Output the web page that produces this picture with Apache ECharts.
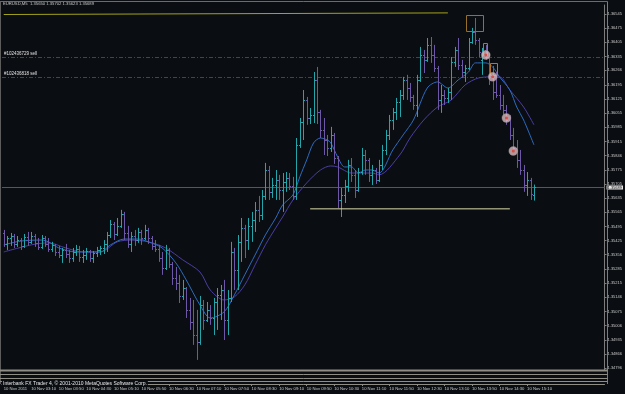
<!DOCTYPE html>
<html><head><meta charset="utf-8">
<script src="https://cdn.jsdelivr.net/npm/echarts@6/dist/echarts.min.js"></script>
<style>html,body{margin:0;padding:0;background:#0a0d11}#c{width:625px;height:394px}</style>
</head><body><div id="c"></div>
<script>
// ---- data (EURUSD M5, 10 Nov 2011, from 02:30) ----
const opens=[1.35463,1.35409,1.35438,1.35448,1.35409,1.35428,1.35399,1.35443,1.35419,1.35448,
1.35414,1.35394,1.35438,1.35409,1.35384,1.35404,1.35369,1.35354,1.35379,1.35359,
1.35339,1.35369,1.35384,1.35344,1.35354,1.35374,1.35339,1.35364,1.35379,1.35389,
1.35409,1.35453,1.35507,1.35458,1.35498,1.35557,1.35463,1.35409,1.35448,1.35428,
1.35468,1.35438,1.35478,1.35438,1.35399,1.35384,1.35339,1.35290,1.35379,1.35310,
1.35241,1.35216,1.35152,1.35191,1.35083,1.35023,1.34959,1.34925,1.35107,1.35033,
1.35083,1.35043,1.35122,1.35157,1.35181,1.35033,1.35142,1.35369,1.35280,1.35419,
1.35488,1.35428,1.35498,1.35527,1.35577,1.35552,1.35646,1.35774,1.35666,1.35700,
1.35725,1.35675,1.35715,1.35735,1.35695,1.35646,1.35898,1.36011,1.36120,1.36031,
1.36046,1.36219,1.36061,1.35972,1.35922,1.35883,1.35947,1.35833,1.35626,1.35651,
1.35695,1.35799,1.35750,1.35675,1.35764,1.35848,1.35824,1.35750,1.35774,1.35725,
1.35799,1.35873,1.35947,1.36021,1.36061,1.36110,1.36145,1.36219,1.36179,1.36135,
1.36095,1.36219,1.36342,1.36318,1.36392,1.36342,1.36278,1.36120,1.36145,1.36130,
1.36160,1.36308,1.36367,1.36293,1.36258,1.36278,1.36407,1.36456,1.36416,1.36318,
1.36367,1.36332,1.36229,1.36160,1.36145,1.36095,1.36071,1.36021,1.35947,1.35883,
1.35824,1.35774,1.35700,1.35725,1.35650];
const highs=[1.35478,1.35448,1.35463,1.35458,1.35448,1.35438,1.35458,1.35468,1.35468,1.35458,
1.35438,1.35453,1.35448,1.35438,1.35419,1.35409,1.35399,1.35389,1.35409,1.35379,
1.35389,1.35404,1.35399,1.35379,1.35389,1.35379,1.35374,1.35394,1.35399,1.35428,
1.35468,1.35527,1.35517,1.35537,1.35577,1.35567,1.35498,1.35468,1.35478,1.35488,
1.35478,1.35503,1.35488,1.35448,1.35428,1.35404,1.35369,1.35404,1.35389,1.35320,
1.35295,1.35256,1.35231,1.35196,1.35142,1.35132,1.35083,1.35152,1.35132,1.35122,
1.35107,1.35142,1.35191,1.35206,1.35231,1.35181,1.35419,1.35389,1.35453,1.35537,
1.35503,1.35537,1.35567,1.35616,1.35646,1.35675,1.35809,1.35794,1.35735,1.35774,
1.35750,1.35759,1.35764,1.35759,1.35740,1.35932,1.36031,1.36169,1.36135,1.36080,
1.36258,1.36283,1.36071,1.36031,1.35947,1.35987,1.35957,1.35843,1.35685,1.35725,
1.35824,1.35833,1.35774,1.35784,1.35883,1.35873,1.35833,1.35799,1.35784,1.35824,
1.35898,1.35972,1.36046,1.36080,1.36130,1.36169,1.36234,1.36244,1.36204,1.36145,
1.36244,1.36382,1.36367,1.36426,1.36431,1.36392,1.36288,1.36194,1.36169,1.36179,
1.36332,1.36382,1.36426,1.36318,1.36293,1.36426,1.36476,1.36525,1.36426,1.36377,
1.36392,1.36352,1.36288,1.36258,1.36194,1.36145,1.36095,1.36046,1.35982,1.35922,
1.35873,1.35799,1.35764,1.35735,1.35702];
const lows=[1.35394,1.35379,1.35399,1.35389,1.35394,1.35379,1.35389,1.35399,1.35409,1.35394,
1.35379,1.35384,1.35394,1.35369,1.35369,1.35349,1.35339,1.35315,1.35339,1.35315,
1.35320,1.35349,1.35320,1.35315,1.35330,1.35320,1.35315,1.35344,1.35354,1.35359,
1.35369,1.35438,1.35428,1.35448,1.35488,1.35428,1.35389,1.35369,1.35399,1.35414,
1.35404,1.35428,1.35409,1.35379,1.35369,1.35320,1.35256,1.35280,1.35290,1.35206,
1.35181,1.35117,1.35132,1.35043,1.34984,1.34910,1.34836,1.34910,1.34984,1.35023,
1.35009,1.34959,1.34984,1.35033,1.34934,1.34959,1.35122,1.35181,1.35181,1.35320,
1.35339,1.35379,1.35419,1.35468,1.35517,1.35527,1.35626,1.35626,1.35636,1.35626,
1.35626,1.35567,1.35666,1.35675,1.35626,1.35626,1.35883,1.35922,1.35997,1.36001,
1.36006,1.36001,1.35932,1.35848,1.35843,1.35863,1.35804,1.35586,1.35542,1.35611,
1.35666,1.35715,1.35636,1.35666,1.35750,1.35750,1.35715,1.35700,1.35705,1.35715,
1.35774,1.35848,1.35922,1.35972,1.36021,1.36036,1.36120,1.36120,1.36110,1.36071,
1.36036,1.36209,1.36253,1.36308,1.36303,1.36258,1.36071,1.36056,1.36095,1.36105,
1.36120,1.36283,1.36268,1.36229,1.36209,1.36268,1.36397,1.36392,1.36332,1.36244,
1.36318,1.36194,1.36120,1.36130,1.36071,1.36046,1.35997,1.35922,1.35863,1.35784,
1.35750,1.35666,1.35646,1.35626,1.35623];
const closes=[1.35409,1.35438,1.35448,1.35409,1.35428,1.35399,1.35443,1.35419,1.35448,1.35414,
1.35394,1.35438,1.35409,1.35384,1.35404,1.35369,1.35354,1.35379,1.35359,1.35339,
1.35369,1.35384,1.35344,1.35354,1.35374,1.35339,1.35364,1.35379,1.35389,1.35409,
1.35453,1.35507,1.35458,1.35498,1.35557,1.35463,1.35409,1.35448,1.35428,1.35468,
1.35438,1.35478,1.35438,1.35399,1.35384,1.35339,1.35290,1.35379,1.35310,1.35241,
1.35216,1.35152,1.35191,1.35083,1.35023,1.34959,1.34925,1.35107,1.35033,1.35083,
1.35043,1.35122,1.35157,1.35181,1.35033,1.35142,1.35369,1.35280,1.35419,1.35488,
1.35428,1.35498,1.35527,1.35577,1.35552,1.35646,1.35774,1.35666,1.35700,1.35725,
1.35675,1.35715,1.35735,1.35695,1.35646,1.35898,1.36011,1.36120,1.36031,1.36046,
1.36219,1.36061,1.35972,1.35922,1.35883,1.35947,1.35833,1.35626,1.35651,1.35695,
1.35799,1.35750,1.35675,1.35764,1.35848,1.35824,1.35750,1.35774,1.35725,1.35799,
1.35873,1.35947,1.36021,1.36061,1.36110,1.36145,1.36219,1.36179,1.36135,1.36095,
1.36219,1.36342,1.36318,1.36392,1.36342,1.36278,1.36120,1.36145,1.36130,1.36160,
1.36308,1.36367,1.36293,1.36258,1.36278,1.36407,1.36456,1.36416,1.36357,1.36367,
1.36332,1.36219,1.36160,1.36145,1.36095,1.36071,1.36021,1.35947,1.35883,1.35824,
1.35774,1.35700,1.35725,1.35656,1.35689];

const fastMA=[[0,1.35404],[5,1.35423],[11,1.35428],[13,1.35419],[16,1.35389],[21,1.35369],[28,1.35369],[31,1.35404],[35,1.35433],[39,1.35433],[42,1.35419],[46,1.35389],[50,1.35315],[53,1.35231],[57,1.35107],[60,1.35043],[64,1.35073],[67,1.35157],[70,1.35256],[73,1.35354],[76,1.35453],[79,1.35537],[81,1.35601],[84,1.35651],[86,1.35740],[88,1.35824],[90,1.35908],[92,1.35932],[94,1.35922],[95,1.35908],[97,1.35838],[99,1.35789],[101,1.35789],[103,1.35759],[105,1.35774],[107,1.35774],[109,1.35759],[113,1.35873],[116,1.35947],[119,1.36021],[123,1.36179],[126,1.36209],[129,1.36179],[132,1.36219],[135,1.36258],[137,1.36303],[140,1.36303],[142,1.36283],[144,1.36234],[147,1.36169],[149,1.36085],[151,1.36021],[154,1.35898]];
const slowMA=[[0,1.35369],[8,1.35404],[13,1.35414],[18,1.35389],[23,1.35369],[28,1.35369],[33,1.35419],[37,1.35428],[42,1.35419],[47,1.35389],[52,1.35330],[57,1.35270],[60,1.35181],[64,1.35132],[67,1.35147],[70,1.35206],[73,1.35305],[76,1.35404],[79,1.35488],[81,1.35542],[84,1.35626],[88,1.35710],[92,1.35774],[95,1.35794],[97,1.35789],[101,1.35759],[104,1.35759],[107,1.35759],[109,1.35750],[115,1.35848],[118,1.35932],[122,1.36021],[126,1.36085],[130,1.36120],[134,1.36194],[138,1.36229],[142,1.36234],[144,1.36234],[147,1.36169],[151,1.36085],[154,1.35997]];

const orderIds=['#102436729 sell','#102436818 sell'];
const orderPrices=[1.36333,1.36234];
const bidPrice=1.35689;
const trendTop=[[0,1.36542],[129,1.36550]];
const supportLine=[[89,1.35582],[147,1.35582]];
const boxes=[[134.8,139.7,1.36540,1.36461],[139.6,141.0,1.36402,1.36342],[141.6,143.9,1.36303,1.36244]];
const tradeMarks=[[140,1.36342],[142,1.36234],[146,1.36031],[148,1.35868]];

const yTicks=[1.36545,1.36475,1.36405,1.36335,1.36266,1.36195,1.36125,1.36055,1.35985,1.35915,1.35846,1.35775,1.35705,1.35635,1.35565,1.35495,1.35425,1.35356,1.35285,1.35215,1.35146,1.35075,1.35006,1.34935,1.34866,1.34796];
const xTickLabels=['10 Nov 2011','10 Nov 03:10','10 Nov 03:50','10 Nov 04:30','10 Nov 05:10','10 Nov 05:50','10 Nov 06:30','10 Nov 07:10','10 Nov 07:50','10 Nov 08:30','10 Nov 09:10','10 Nov 09:50','10 Nov 10:30','10 Nov 11:10','10 Nov 11:50','10 Nov 12:30','10 Nov 13:10','10 Nov 13:50','10 Nov 14:30','10 Nov 15:10'];
const titleText='EURUSD,M5  1.35650 1.35702 1.35623 1.35689';
const copyright='Interbank FX Trader 4, \u00a9 2001-2010 MetaQuotes Software Corp.';

// ---- categories: M5 slots from 02:30 (incl. empty shift area) ----
const nSlots=175, labelStep=8;
const cats=[];
for(let k=0;k<nSlots;k++){const m=150+5*k;cats.push(String(Math.floor(m/60)).padStart(2,'0')+':'+String(m%60).padStart(2,'0'));}
const showTick=(idx)=> idx%labelStep===0 && idx/labelStep<xTickLabels.length;

const UP='#22a6aa', DOWN='#6c58a6';
const FONT='Liberation Sans';
const BG='#0a0d11';

const barData=opens.map((o,i)=>[i,o,highs[i],lows[i],closes[i]]);
const hLineData=orderPrices.map(p=>[0,p]).concat([[0,bidPrice]]);

const chart=echarts.init(document.getElementById('c'),null,{renderer:'canvas'});
chart.setOption({
  backgroundColor:BG,
  animation:false,
  textStyle:{fontFamily:FONT},
  grid:{left:2,right:18,top:5,bottom:24},
  xAxis:{type:'category',data:cats,boundaryGap:true,offset:14,
    axisLine:{show:true,lineStyle:{color:'#8f8d84'}},
    axisTick:{show:true,alignWithLabel:true,interval:(i)=>showTick(i),length:2,lineStyle:{color:'#8f8d84'}},
    axisLabel:{interval:(i)=>showTick(i),formatter:(v,i)=>xTickLabels[i/labelStep],fontSize:4.2,color:'#c8c8c8',align:'left',margin:3,fontFamily:FONT},
    splitLine:{show:false}},
  yAxis:{type:'value',position:'right',min:1.34786,max:1.36589,
    splitLine:{show:false},
    axisLine:{show:true,lineStyle:{color:'#7c7c7c'}},
    axisTick:{show:true,length:2,customValues:yTicks,lineStyle:{color:'#7c7c7c'}},
    axisLabel:{customValues:yTicks,formatter:(v)=>v.toFixed(5),fontSize:4,color:'#c8c8c8',margin:3,fontFamily:FONT}},
  series:[
    {type:'custom',data:hLineData,z:2,clip:false,
     renderItem:(params,api)=>{
       const cs=params.coordSys;
       const y=Math.round(api.coord([0,api.value(1)])[1])+0.5;
       const k=params.dataIndex;
       if(k<orderIds.length){
         const segs=[];
         for(let x=cs.x;x<cs.x+cs.width;x+=9){
           segs.push({type:'rect',shape:{x:x,y:y-0.5,width:4,height:1},style:{fill:'#b3161a'}});
           segs.push({type:'rect',shape:{x:x+6,y:y-0.5,width:1,height:1},style:{fill:'#b3161a'}});
         }
         segs.push({type:'text',x:cs.x+2,y:y-1.5,style:{text:orderIds[k],fill:'#e0e0e0',fontSize:4.5,fontFamily:FONT,verticalAlign:'bottom'}});
         return {type:'group',children:segs};
       }
       return {type:'group',children:[
         {type:'rect',shape:{x:cs.x,y:y-0.5,width:cs.width,height:1},style:{fill:'#55556a'}},
         {type:'text',x:cs.x+cs.width+2,y:y,style:{text:api.value(1).toFixed(5),fill:'#101010',backgroundColor:'#e6e6e6',padding:[0,1],fontSize:4,fontFamily:FONT,verticalAlign:'middle'}}
       ]};
     }},
    {type:'line',data:slowMA,smooth:0.3,symbol:'none',lineStyle:{color:'#4a3ea6',width:1},z:3},
    {type:'line',data:fastMA,smooth:0.3,symbol:'none',lineStyle:{color:'#2d6cc2',width:1},z:3},
    {type:'custom',data:barData,z:4,
     renderItem:(params,api)=>{
       const i=api.value(0),o=api.value(1),h=api.value(2),l=api.value(3),c=api.value(4);
       const pH=api.coord([i,h]),pL=api.coord([i,l]),pO=api.coord([i,o]),pC=api.coord([i,c]);
       const x=Math.round(pH[0])+0.5;
       const w=1;
       const col=c>=o?UP:DOWN;
       const st={stroke:col,lineWidth:1};
       return {type:'group',children:[
         {type:'line',shape:{x1:x,y1:pH[1],x2:x,y2:pL[1]},style:st},
         {type:'line',shape:{x1:x-w-0.5,y1:Math.round(pO[1])+0.5,x2:x,y2:Math.round(pO[1])+0.5},style:st},
         {type:'line',shape:{x1:x,y1:Math.round(pC[1])+0.5,x2:x+w+0.5,y2:Math.round(pC[1])+0.5},style:st}
       ]};
     }},
    {type:'line',data:trendTop.map((d,k)=>({value:d,symbol:k===trendTop.length-1?'rect':'none',symbolSize:3})),
     lineStyle:{color:'#a3a31c',width:1},itemStyle:{color:'#e6e632'},z:5},
    {type:'line',data:supportLine,symbol:'none',lineStyle:{color:'#dcdca8',width:1},z:5},
    {type:'custom',data:boxes,z:6,
     renderItem:(params,api)=>{
       const band=api.size([1,0])[0];
       const xAt=(v,p)=>{const f=Math.floor(v);return api.coord([f,p])[0]+(v-f)*band-band/2;};
       const x0=Math.round(xAt(api.value(0),api.value(2)))+0.5, x1=Math.round(xAt(api.value(1),api.value(2)))+0.5;
       const y0=Math.round(api.coord([0,api.value(2)])[1])+0.5, y1=Math.round(api.coord([0,api.value(3)])[1])+0.5;
       return {type:'rect',shape:{x:x0,y:y0,width:x1-x0,height:y1-y0},style:{fill:'none',stroke:params.dataIndex===0?'#97702c':'#b87428',lineWidth:1}};
     }},
    {type:'scatter',data:tradeMarks,symbol:'circle',symbolSize:9,itemStyle:{color:'#dcbcc0',borderColor:'#8a8a8a',borderWidth:0.5},z:7},
    {type:'scatter',data:tradeMarks,symbol:'circle',symbolSize:3,itemStyle:{color:'#e03a2a'},z:8}
  ],
  graphic:[
    {type:'line',shape:{x1:0,y1:1.5,x2:607.5,y2:1.5},style:{stroke:'#6c6c6c',lineWidth:1},z:10},
    {type:'line',shape:{x1:0.5,y1:1.5,x2:0.5,y2:384},style:{stroke:'#5c5c5c',lineWidth:1},z:10},
    {type:'line',shape:{x1:607.5,y1:1.5,x2:607.5,y2:384},style:{stroke:'#7c7c7c',lineWidth:1},z:10},
    {type:'rect',shape:{x:0,y:369.5,width:607.5,height:2},style:{fill:'#8f8d84'},z:10},
    {type:'line',shape:{x1:0,y1:374.5,x2:607.5,y2:374.5},style:{stroke:'#8f8d84',lineWidth:1},z:10},
    {type:'line',shape:{x1:0,y1:378.5,x2:607.5,y2:378.5},style:{stroke:'#8f8d84',lineWidth:1},z:10},
    {type:'line',shape:{x1:0,y1:381.5,x2:607.5,y2:381.5},style:{stroke:'#8f8d84',lineWidth:1},z:10},
    {type:'text',left:3,top:2,style:{text:titleText,fill:'#c8c8c8',fontSize:4.2,fontFamily:FONT},z:11},
    {type:'text',left:2,top:381,style:{text:copyright,fill:'#e8e8e8',fontSize:5,fontFamily:FONT,backgroundColor:BG,padding:[0,1]},z:11}
  ]
});
</script>
</body></html>
